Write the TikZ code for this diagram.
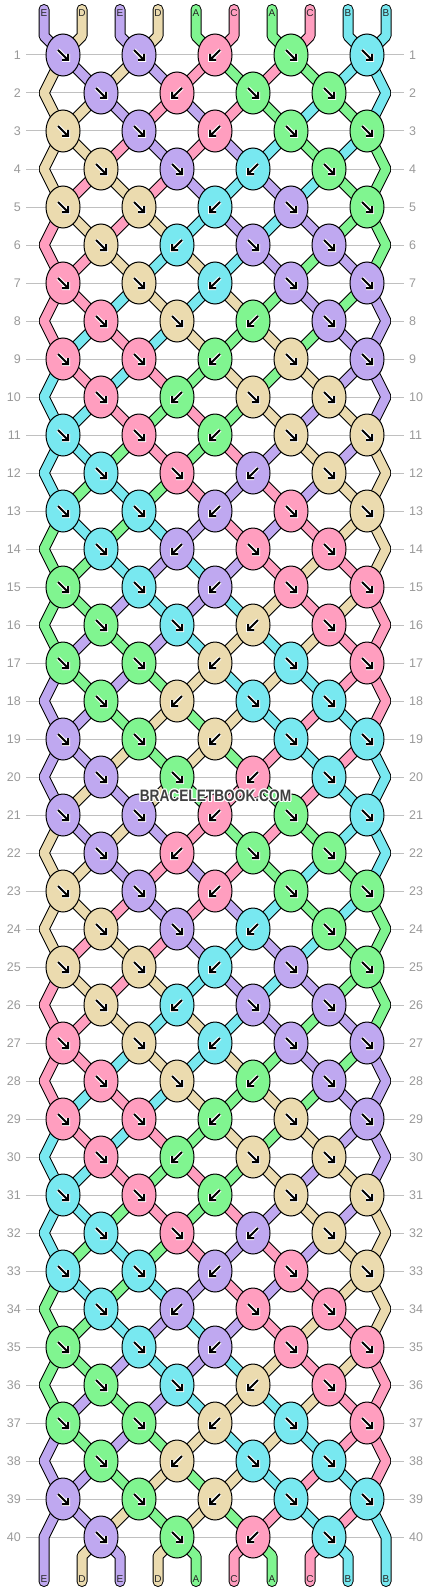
\documentclass[tikz,border=0pt]{standalone}
\usepackage{fontspec}
\setmainfont{Liberation Sans}
\usetikzlibrary{shapes.geometric}

\definecolor{colE}{HTML}{BFA8F0}
\definecolor{colD}{HTML}{EBDBAF}
\definecolor{colA}{HTML}{80F590}
\definecolor{colC}{HTML}{FF9EBF}
\definecolor{colB}{HTML}{78E8F0}
\definecolor{rowgray}{HTML}{999999}
\definecolor{linegray}{HTML}{C0C0C0}

\newcommand{\wmtext}{\scalebox{0.83}[1]{BRACELETBOOK.COM}}

\pgfdeclarelayer{grid}
\pgfdeclarelayer{strands}
\pgfsetlayers{grid,strands,main}

\tikzset{
  knot/.style={ellipse, draw, line width=1pt, minimum width=34pt,
    minimum height=42pt, inner sep=0pt},
  strand/.style={draw=black, line width=1pt, double distance=9pt,
    line join=bevel},
  rownum/.style={text=rowgray, font=\fontsize{12.5}{12.5}\selectfont,
    inner sep=0pt},
  rowline/.style={draw=linegray, line width=1pt},
  endlbl/.style={font=\fontsize{10}{10}\selectfont, text=black!85,
    inner sep=0pt},
  wmark/.style={font=\fontsize{16.5}{16.5}\selectfont\bfseries,
    inner sep=0pt},
  knotarrow/.pic={
    \draw[draw=white, double=black, line width=1pt, double distance=2pt,
      line join=miter]
      (-5,-5) -- (5,5) (-1,5) -- (5,5) -- (5,-1);
  }
}

\begin{document}
\begin{tikzpicture}[x=1pt, y=-1pt]
\useasboundingbox (0,0) rectangle (430,1592);

% knots (the pattern repeats after 20 rows)
\foreach \blk in {0,20}{
  \foreach \knots [count=\i] in {
    {E/1,E/1,C/-1,A/1,B/1}, {E/1,C/-1,A/1,A/1},
    {D/1,E/1,C/-1,A/1,A/1}, {D/1,E/1,B/-1,A/1},
    {D/1,D/1,B/-1,E/1,A/1}, {D/1,B/-1,E/1,E/1},
    {C/1,D/1,B/-1,E/1,E/1}, {C/1,D/1,A/-1,E/1},
    {C/1,C/1,A/-1,D/1,E/1}, {C/1,A/-1,D/1,D/1},
    {B/1,C/1,A/-1,D/1,D/1}, {B/1,C/1,E/-1,D/1},
    {B/1,B/1,E/-1,C/1,D/1}, {B/1,E/-1,C/1,C/1},
    {A/1,B/1,E/-1,C/1,C/1}, {A/1,B/1,D/-1,C/1},
    {A/1,A/1,D/-1,B/1,C/1}, {A/1,D/-1,B/1,B/1},
    {E/1,A/1,D/-1,B/1,B/1}, {E/1,A/1,C/-1,B/1}}{
    \pgfmathtruncatemacro\rw{\blk+\i}
    \pgfmathsetmacro\yy{55+38*(\rw-1)}
    \foreach \kc/\sx [count=\j from 0] in \knots {
      \pgfmathtruncatemacro\cc{2*\j+2-mod(\rw,2)}
      \node[knot, fill=col\kc] (k-\rw-\cc) at (25+38*\cc,\yy) {};
      \pic[xscale=\sx] at (k-\rw-\cc) {knotarrow};
    }
    \ifodd\rw\else
      \coordinate (k-\rw-0) at (44,\yy);
      \coordinate (k-\rw-10) at (386,\yy);
    \fi
    \node[rownum, anchor=east] (ln-\rw) at (21,\yy) {\rw};
    \node[rownum, anchor=west] (rn-\rw) at (409,\yy) {\rw};
    \begin{pgfonlayer}{grid}
      \draw[rowline] ([xshift=5pt]ln-\rw.east) -- ([xshift=-5pt]rn-\rw.west);
    \end{pgfonlayer}
  }
}

% string ends
\foreach \sc [count=\p from 0] in {E,D,E,D,A,C,A,C,B,B}{
  \coordinate (cap-\p) at (44+38*\p,9.5);
  \coordinate (top-\p) at (44+38*\p,36);
  \coordinate (bot-\p) at (44+38*\p,1556);
  \coordinate (end-\p) at (44+38*\p,1581.5);
  \node[endlbl] (tl-\p) at (44+38*\p,13) {\sc};
  \node[endlbl] (bl-\p) at (44+38*\p,1579) {\sc};
}

\begin{pgfonlayer}{strands}
% strings between rows, order of strings after each row
\foreach \blk in {0,20}{
  \foreach \arr [count=\i from 0] in {
    {E,D,E,D,A,C,A,C,B,B}, {D,E,D,E,C,A,C,A,B,B},
    {D,D,E,C,E,C,A,B,A,B}, {D,D,C,E,C,E,B,A,B,A},
    {D,C,D,C,E,B,E,B,A,A}, {C,D,C,D,B,E,B,E,A,A},
    {C,C,D,B,D,B,E,A,E,A}, {C,C,B,D,B,D,A,E,A,E},
    {C,B,C,B,D,A,D,A,E,E}, {B,C,B,C,A,D,A,D,E,E},
    {B,B,C,A,C,A,D,E,D,E}, {B,B,A,C,A,C,E,D,E,D},
    {B,A,B,A,C,E,C,E,D,D}, {A,B,A,B,E,C,E,C,D,D},
    {A,A,B,E,B,E,C,D,C,D}, {A,A,E,B,E,B,D,C,D,C},
    {A,E,A,E,B,D,B,D,C,C}, {E,A,E,A,D,B,D,B,C,C},
    {E,E,A,D,A,D,B,C,B,C}, {E,E,D,A,D,A,C,B,C,B}}{
    \pgfmathtruncatemacro\rw{\blk+\i}
    \pgfmathtruncatemacro\rn{\rw+1}
    \foreach \sc [count=\p from 0] in \arr {
      \ifnum\rw=0
        \pgfmathtruncatemacro\cb{\p-mod(\p,2)+1}
        \draw[strand, double=col\sc, line cap=round]
          (cap-\p) -- (top-\p) -- (k-1-\cb.center);
      \else
        \ifnum\p>0 \ifnum\p<9
          \pgfmathtruncatemacro\ca{mod(\rw,2)==1 ? \p-mod(\p,2)+1 : \p+mod(\p,2)}
          \pgfmathtruncatemacro\cb{mod(\rw,2)==1 ? \p+mod(\p,2) : \p-mod(\p,2)+1}
          \draw[strand, double=col\sc] (k-\rw-\ca.center) -- (k-\rn-\cb.center);
        \fi\fi
      \fi
    }
  }
}
% edge strings on even rows
\foreach \blk in {0,20}{
  \foreach \lcol/\rcol [count=\i] in {D/B, D/A, C/A, C/E, B/E,
                                      B/D, A/D, A/C, E/C, E/B}{
    \pgfmathtruncatemacro\rw{\blk+2*\i}
    \pgfmathtruncatemacro\rp{\rw-1}
    \pgfmathtruncatemacro\rn{\rw+1}
    \ifnum\rw<40
      \draw[strand, double=col\lcol]
        (k-\rp-1.center) -- (k-\rw-0) -- (k-\rn-1.center);
      \draw[strand, double=col\rcol]
        (k-\rp-9.center) -- (k-\rw-10) -- (k-\rn-9.center);
    \else
      \draw[strand, double=col\lcol, line cap=round]
        (k-\rp-1.center) -- (k-\rw-0) -- (end-0);
      \draw[strand, double=col\rcol, line cap=round]
        (k-\rp-9.center) -- (k-\rw-10) -- (end-9);
    \fi
  }
}
% bottom ends
\foreach \sc [count=\p from 0] in {E,D,E,D,A,C,A,C,B,B}{
  \ifnum\p>0 \ifnum\p<9
    \pgfmathtruncatemacro\ca{\p+mod(\p,2)}
    \draw[strand, double=col\sc, line cap=round]
      (k-40-\ca.center) -- (bot-\p) -- (end-\p);
  \fi\fi
}
\end{pgfonlayer}

% watermark
\foreach \a in {0,45,...,315}
  \node[wmark, text=white] (wm-\a) at ({215.5+1.3*cos(\a)},{796+1.3*sin(\a)}) {\wmtext};
\node[wmark, text=black!75] (wm) at (215.5,796) {\wmtext};
\end{tikzpicture}
\end{document}
